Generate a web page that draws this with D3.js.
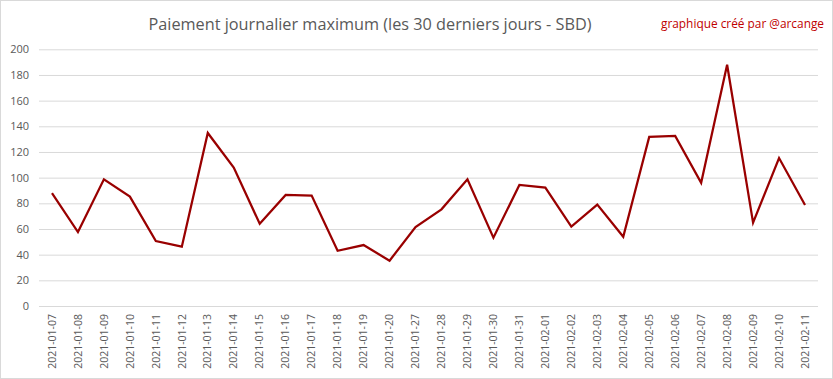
<!DOCTYPE html>
<html><head><meta charset="utf-8">
<script src="https://cdn.jsdelivr.net/npm/d3@7"></script>
<style>body{margin:0;background:#fff}</style>
</head><body>
<svg id="c" width="833" height="379"></svg>
<script>
const dates = ["2021-01-07","2021-01-08","2021-01-09","2021-01-10","2021-01-11","2021-01-12","2021-01-13","2021-01-14","2021-01-15","2021-01-16","2021-01-17","2021-01-18","2021-01-19","2021-01-20","2021-01-27","2021-01-28","2021-01-29","2021-01-30","2021-01-31","2021-02-01","2021-02-02","2021-02-03","2021-02-04","2021-02-05","2021-02-06","2021-02-07","2021-02-08","2021-02-09","2021-02-10","2021-02-11"];
const values = [88,57.6,98.7,85.2,50.6,46.2,134.8,107.8,64.1,86.5,86,43,47.5,35.3,61.5,75.3,98.7,53.2,94.3,92.2,61.8,79,54,131.7,132.5,96,188,64.9,115.3,78.7];
const yTicks = [0,20,40,60,80,100,120,140,160,180,200];
const title = "Paiement journalier maximum (les 30 derniers jours - SBD)";
const credit = "graphique créé par @arcange";

const svg = d3.select("#c");
const W = 833, H = 379;
const L = 39, R = 818, T = 49.3, B = 306;

svg.append("rect").attr("x",0.5).attr("y",0.5).attr("width",W-1).attr("height",H-1)
  .attr("fill","#fff").attr("stroke","#d9d9d9");

const x = d3.scaleBand().domain(dates).range([L,R]);
const y = d3.scaleLinear().domain([0,200]).range([B,T]);

const yAxis = svg.append("g").attr("transform",`translate(${L},0)`)
  .call(d3.axisLeft(y).tickValues(yTicks).tickSize(-(R-L)).tickPadding(10));
yAxis.select(".domain").remove();
yAxis.selectAll(".tick line").attr("stroke","#d9d9d9").attr("stroke-width",1);
yAxis.selectAll(".tick text").attr("fill","#595959").style("font-family","'Open Sans', sans-serif").style("font-size","11px");

const xAxis = svg.append("g").attr("transform",`translate(0,${B})`)
  .call(d3.axisBottom(x).tickSize(0));
xAxis.select(".domain").remove();
xAxis.selectAll(".tick text")
  .attr("fill","#595959").style("font-family","'Open Sans', sans-serif").style("font-size","10.5px")
  .attr("transform","rotate(-90)").attr("text-anchor","end").attr("x",-8).attr("y",0).attr("dy","0.35em");

const line = d3.line().x((d,i)=>x(dates[i])+x.bandwidth()/2).y(d=>y(d));
svg.append("path").datum(values).attr("d",line).attr("fill","none")
  .attr("stroke","#990000").attr("stroke-width",2.25).attr("stroke-linejoin","miter");

svg.append("text").attr("x",370).attr("y",30).attr("text-anchor","middle")
  .attr("fill","#595959").style("font-family","'Open Sans', sans-serif").style("font-size","17px")
  .attr("textLength",443).attr("lengthAdjust","spacingAndGlyphs").text(title);

svg.append("text").attr("x",824).attr("y",28).attr("text-anchor","end")
  .attr("fill","#c00000").style("font-family","'Open Sans', sans-serif").style("font-size","12px")
  .attr("textLength",163).attr("lengthAdjust","spacingAndGlyphs").text(credit);
</script>
</body></html>
